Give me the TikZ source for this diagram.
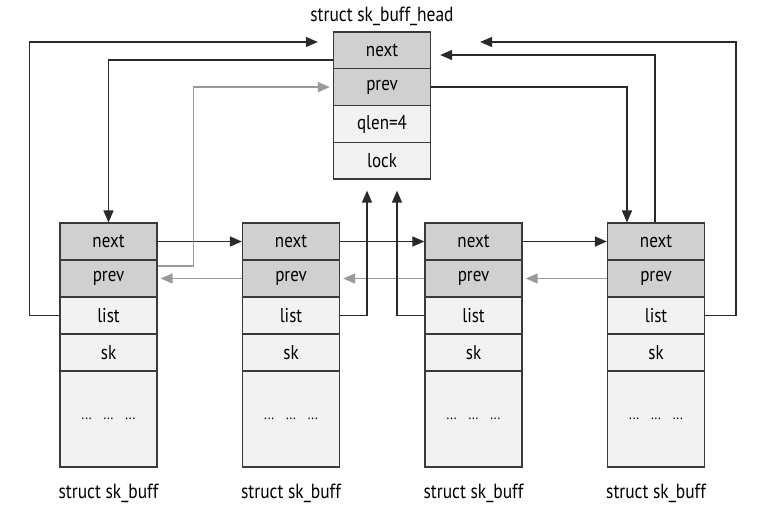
\documentclass[tikz,border=0pt]{standalone}
\usepackage{fontspec}
\setmainfont{PT Sans}[FakeStretch=0.85]
\usetikzlibrary{arrows.meta}
\definecolor{boxline}{HTML}{3A3A3A}
\definecolor{darkfill}{HTML}{D0D0D0}
\definecolor{lightfill}{HTML}{F2F2F2}
\definecolor{grayarrow}{HTML}{9A9A9A}
\definecolor{blackline}{HTML}{2A2A2A}
\tikzset{
  cell/.style={draw=boxline, line width=1.3pt, minimum width=97pt, minimum height=36.75pt, inner sep=0pt, font=\fontsize{20}{22}\selectfont},
  darkcell/.style={cell, fill=darkfill},
  lightcell/.style={cell, fill=lightfill},
  bigcell/.style={lightcell, minimum height=96pt},
  arr/.style={draw=blackline, line width=1.5pt, -{Triangle[length=12pt,width=10pt]}},
  grayarr/.style={draw=grayarrow, line width=1.5pt, -{Triangle[length=12pt,width=10pt]}, color=grayarrow},
  lbl/.style={font=\fontsize{20.5}{22}\selectfont, inner sep=0pt}
}
\begin{document}
\begin{tikzpicture}[x=1pt,y=-1pt]
\useasboundingbox (0,0) rectangle (757,518);
% head
\node[lbl] (hlabel) at (382,16) {struct sk\_buff\_head};
\node[darkcell] (h-next) at (382,50.4) {next};
\node[darkcell] (h-prev) at (382,87.1) {prev};
\node[lightcell] (h-qlen) at (382,123.9) {qlen=4};
\node[lightcell] (h-lock) at (382,160.6) {lock};
% buffers
\foreach \i/\x in {1/108.5, 2/291, 3/473.5, 4/656} {
  \node[darkcell] (b\i-next) at (\x,241.5) {next};
  \node[darkcell] (b\i-prev) at (\x,278.5) {prev};
  \node[lightcell] (b\i-list) at (\x,315.5) {list};
  \node[lightcell] (b\i-sk) at (\x,352.5) {sk};
  \node[bigcell] (b\i-rest) at (\x,419) {\fontsize{15}{17}\selectfont ...\hspace{12pt}...\hspace{12pt}...};
  \node[lbl] (b\i-label) at (\x,493) {struct sk\_buff};
}
% next chain
\draw[arr] (b1-next.east) -- (b2-next.west);
\draw[arr] (b2-next.east) -- (b3-next.west);
\draw[arr] (b3-next.east) -- (b4-next.west);
% prev chain
\draw[grayarr] (b2-prev.west) -- ([xshift=3pt]b1-prev.east);
\draw[grayarr] (b3-prev.west) -- ([xshift=3pt]b2-prev.east);
\draw[grayarr] (b4-prev.west) -- ([xshift=3pt]b3-prev.east);
% head connections
\draw[arr] (b1-list.west) -- ++(-30,0) |- ([xshift=-15pt,yshift=8.4pt]h-next.west);
\draw[arr] ([yshift=-9.6pt]h-next.west) -| (b1-next.north);
\draw[grayarr] ([yshift=12.5pt]b1-prev.east) -- ++(36,0) |- ([xshift=-3pt]h-prev.west);
\draw[arr] (h-prev.east) -| ([xshift=-29pt]b4-next.north);
\draw[arr] ([xshift=-1pt]b4-next.north) |- ([xshift=9pt,yshift=-4.6pt]h-next.east);
\draw[arr] (b4-list.east) -- ++(31,0) |- ([xshift=49pt,yshift=8.4pt]h-next.east);
\draw[arr] (b2-list.east) -| ([xshift=-15pt,yshift=-11pt]h-lock.south);
\draw[arr] (b3-list.west) -| ([xshift=15pt,yshift=-11pt]h-lock.south);
\end{tikzpicture}
\end{document}
